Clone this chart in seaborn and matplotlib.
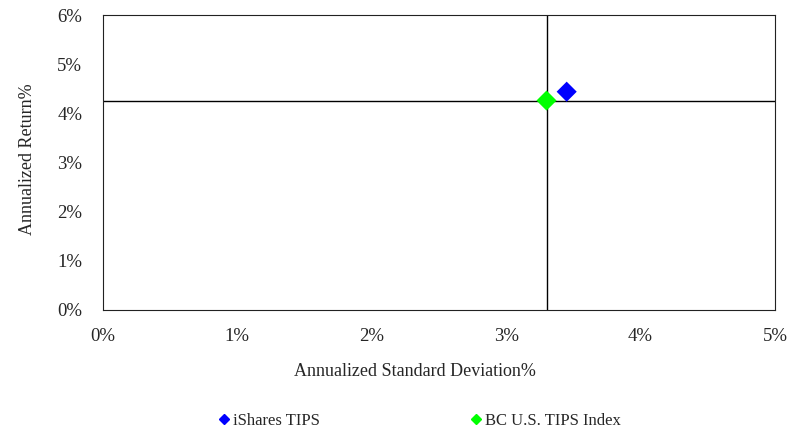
import matplotlib
matplotlib.use("Agg")
import matplotlib.pyplot as plt
import seaborn as sns
import pandas as pd
from matplotlib.ticker import FuncFormatter

# Data
series_names = ["iShares TIPS", "BC U.S. TIPS Index"]
std_dev = [3.45, 3.30]          # annualized standard deviation, %
ann_return = [4.44, 4.26]       # annualized return, %
colors = ["#0000FF", "#00FF00"]
benchmark = "BC U.S. TIPS Index"

df = pd.DataFrame({"name": series_names, "std": std_dev, "ret": ann_return})

sns.set_style("white")
plt.rcParams["font.family"] = ["Liberation Serif", "DejaVu Serif"]

fig = plt.figure(figsize=(8.09, 4.32), dpi=100)
ax = fig.add_axes([103 / 809, 1 - 310 / 432, 672 / 809, 295 / 432])

# crosshair through the benchmark point
bench = df[df["name"] == benchmark].iloc[0]
ax.axvline(bench["std"], color="black", linewidth=1, zorder=1)
ax.axhline(bench["ret"], color="black", linewidth=1, zorder=1)

sns.scatterplot(data=df, x="std", y="ret", hue="name", palette=colors,
                hue_order=series_names, marker="D", s=105, edgecolor="none",
                ax=ax, zorder=3, legend=False)

ax.set_xlim(0, 5)
ax.set_ylim(0, 6)
ax.set_xticks(range(0, 6))
ax.set_yticks(range(0, 7))
pct = FuncFormatter(lambda v, _: f"{int(v)}%")
ax.xaxis.set_major_formatter(pct)
ax.yaxis.set_major_formatter(pct)
ax.tick_params(labelsize=13.5, length=0)
ax.tick_params(axis="x", pad=13)
ax.tick_params(axis="y", pad=15)
ax.set_xlabel("Annualized Standard Deviation%", fontsize=13, labelpad=13, x=0.464)
ax.set_ylabel("Annualized Return%", fontsize=13, labelpad=15, y=0.51)
for sp in ax.spines.values():
    sp.set_color("#222222")
    sp.set_linewidth(0.8)

handles = [plt.Line2D([], [], marker="D", linestyle="none", color=c,
                      markersize=5, label=n) for n, c in zip(series_names, colors)]
fig.legend(handles=handles, loc="center", bbox_to_anchor=(0.518, (432 - 421) / 432),
           ncol=2, frameon=False, fontsize=12, handletextpad=0.15,
           columnspacing=9, handlelength=0.8, borderpad=0)

fig.savefig("out.png", dpi=100)
